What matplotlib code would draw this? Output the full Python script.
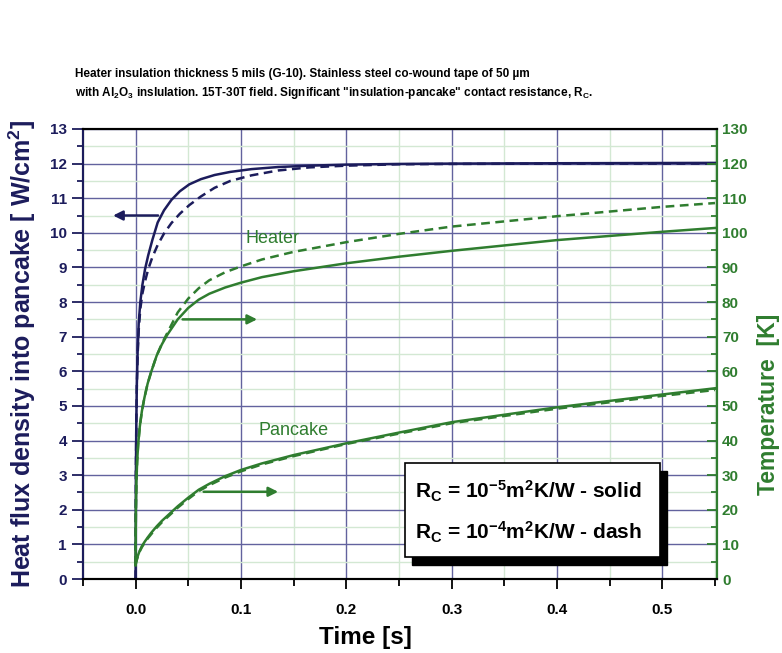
#!/usr/bin/env python
"""
Heat flux into pancake and heater / pancake temperatures vs time
"""

import matplotlib
matplotlib.use("Agg")
import matplotlib.pyplot as plt
from matplotlib.ticker import MultipleLocator
from matplotlib.patches import Rectangle

plt.rcParams['font.family'] = ['Liberation Sans', 'DejaVu Sans']
plt.rcParams['mathtext.fontset'] = 'custom'
plt.rcParams['mathtext.rm'] = 'Liberation Sans:bold'
plt.rcParams['mathtext.it'] = 'Liberation Sans:bold'
plt.rcParams['mathtext.bf'] = 'Liberation Sans:bold'

NAVY = '#1c1c5c'
GREEN = '#2f7d2f'

# Heat flux density [W/cm2], left axis
flux_t = [0, 0.0003, 0.0007, 0.0012, 0.002, 0.003, 0.0045, 0.0065, 0.009, 0.012,
          0.016, 0.021, 0.027, 0.034, 0.042, 0.051, 0.062, 0.075, 0.09, 0.11,
          0.135, 0.165, 0.2, 0.25, 0.3, 0.4, 0.55]
flux_solid = [0, 3.0, 4.5, 5.6, 6.6, 7.4, 8.0, 8.5, 8.95, 9.35,
              9.8, 10.3, 10.65, 10.95, 11.2, 11.4, 11.55, 11.67, 11.76, 11.84,
              11.9, 11.94, 11.97, 11.99, 12.0, 12.01, 12.02]
flux_dash = [0, 3.0, 4.5, 5.6, 6.5, 7.2, 7.8, 8.25, 8.6, 8.95,
             9.3, 9.65, 9.98, 10.28, 10.55, 10.8, 11.05, 11.3, 11.5, 11.66,
             11.8, 11.89, 11.94, 11.98, 11.99, 12.0, 12.0]

# Temperatures [K], right axis
temp_t = [0, 0.0003, 0.0008, 0.0015, 0.0025, 0.004, 0.006, 0.0085, 0.0115, 0.015,
          0.02, 0.025, 0.03, 0.04, 0.05, 0.06, 0.07, 0.085, 0.1, 0.12,
          0.15, 0.2, 0.25, 0.3, 0.4, 0.5, 0.55]
heater_solid = [4, 20, 28, 34, 39, 44, 48.5, 52.5, 56.5, 60,
                64.5, 67.8, 70.5, 75, 78.3, 80.7, 82.4, 84.2, 85.6, 87.2,
                88.9, 91.2, 93.1, 94.8, 97.9, 100.3, 101.4]
heater_dash = [4, 20, 28, 34, 39, 44, 48.5, 52.5, 56.5, 60,
               64.5, 68, 71, 77, 81, 84, 86.3, 88.6, 90.3, 92.3,
               94.5, 97.3, 99.7, 101.8, 104.8, 107.5, 108.6]
pancake_solid = [4, 4.5, 5.2, 6.0, 7.0, 8.2, 9.5, 10.7, 12.0, 13.4,
                 15.2, 16.8, 18.2, 21.0, 23.5, 25.8, 27.5, 29.7, 31.5, 33.4,
                 35.8, 39.2, 42.3, 45.3, 49.6, 53.3, 55.1]
pancake_dash = [4, 4.5, 5.1, 5.9, 6.8, 8.0, 9.2, 10.4, 11.7, 13.0,
                14.8, 16.4, 17.8, 20.6, 23.1, 25.4, 27.1, 29.3, 31.1, 33.1,
                35.5, 39.0, 42.0, 45.0, 49.2, 52.9, 54.6]

fig = plt.figure(figsize=(7.82, 6.53), dpi=100)
ax = fig.add_axes([0.106, 0.1133, 0.811, 0.6892])
ax2 = ax.twinx()

ax.set_xlim(-0.05, 0.552)
ax.set_ylim(0, 13)
ax2.set_ylim(0, 130)

# grid
ax.xaxis.set_major_locator(MultipleLocator(0.1))
ax.xaxis.set_minor_locator(MultipleLocator(0.05))
ax.yaxis.set_major_locator(MultipleLocator(1))
ax.yaxis.set_minor_locator(MultipleLocator(0.5))
ax2.yaxis.set_major_locator(MultipleLocator(10))
ax2.yaxis.set_minor_locator(MultipleLocator(5))
ax.grid(True, which='major', color='#62629e', lw=1.0)
ax.grid(True, which='minor', color='#d3e8d3', lw=1.0)
ax.set_axisbelow(True)

# curves
dash = (0, (3.5, 2.2))
ax.plot(flux_t, flux_solid, color=NAVY, lw=1.8)
ax.plot(flux_t, flux_dash, color=NAVY, lw=1.8, ls=dash)
ax2.plot(temp_t, heater_solid, color=GREEN, lw=1.8)
ax2.plot(temp_t, heater_dash, color=GREEN, lw=1.8, ls=dash)
ax2.plot(temp_t, pancake_solid, color=GREEN, lw=1.8)
ax2.plot(temp_t, pancake_dash, color=GREEN, lw=1.8, ls=dash)

# arrows and labels
ax.annotate('', xy=(-0.024, 10.5), xytext=(0.024, 10.5),
            arrowprops=dict(arrowstyle='-|>', color=NAVY, lw=1.8, mutation_scale=14))
ax.annotate('', xy=(0.118, 7.5), xytext=(0.042, 7.5),
            arrowprops=dict(arrowstyle='-|>', color=GREEN, lw=1.8, mutation_scale=14))
ax.annotate('', xy=(0.138, 2.52), xytext=(0.062, 2.52),
            arrowprops=dict(arrowstyle='-|>', color=GREEN, lw=1.8, mutation_scale=14))
ax.text(0.104, 9.84, 'Heater', color=GREEN, fontsize=13, va='center')
ax.text(0.117, 4.3, 'Pancake', color=GREEN, fontsize=13, va='center')

# ticks
ax.tick_params(axis='y', which='major', direction='out', length=8, width=1.3,
               colors=NAVY, labelsize=11)
ax.tick_params(axis='y', which='minor', direction='out', length=4, width=1.3, colors=NAVY)
ax.tick_params(axis='x', which='major', direction='out', length=7, width=1.3,
               labelsize=11, pad=10)
ax.tick_params(axis='x', which='minor', direction='out', length=5, width=1.3)
ax2.tick_params(axis='y', which='major', direction='in', length=7, width=1.3,
                colors=GREEN, labelsize=11)
ax2.tick_params(axis='y', which='minor', direction='in', length=4, width=1.3, colors=GREEN)
for lab in ax.get_xticklabels() + ax.get_yticklabels() + ax2.get_yticklabels():
    lab.set_fontweight('bold')
ax.xaxis.set_major_formatter(plt.FuncFormatter(lambda v, p: '%.1f' % v))

for a in (ax, ax2):
    for s in a.spines.values():
        s.set_linewidth(1.5)
ax2.spines['left'].set_color(NAVY)
ax2.spines['right'].set_color(GREEN)

ax.set_xlabel('Time [s]', fontsize=17.5, fontweight='bold')
ax.xaxis.set_label_coords(0.446, -0.105)
ax.set_ylabel('Heat flux density into pancake [ W/cm$^2$]', fontsize=18,
              fontweight='bold', color=NAVY)
ax.yaxis.set_label_coords(-0.07, 0.5)
ax2.set_ylabel('Temperature  [K]', fontsize=16.5, fontweight='bold', color=GREEN)
ax2.yaxis.set_label_coords(1.063, 0.387)

# title text
fig.text(0.096, 0.882, 'Heater insulation thickness 5 mils (G-10). Stainless steel co-wound tape of 50 \u00b5m',
         fontsize=8.5, fontweight='bold')
fig.text(0.096, 0.853, 'with Al$_2$O$_3$ inslulation. 15T-30T field. Significant "insulation-pancake" contact resistance, R$_C$.',
         fontsize=8.5, fontweight='bold')

# legend box with shadow
fig.add_artist(Rectangle((0.527, 0.135), 0.326, 0.144, transform=fig.transFigure,
                         facecolor='black', edgecolor='black', zorder=5))
fig.add_artist(Rectangle((0.518, 0.147), 0.326, 0.144, transform=fig.transFigure,
                         facecolor='white', edgecolor='black', lw=1.2, zorder=6))
fig.text(0.531, 0.248, 'R$_C$ = 10$^{-5}$m$^2$K/W - solid', fontsize=15,
         fontweight='bold', va='center', zorder=7)
fig.text(0.531, 0.185, 'R$_C$ = 10$^{-4}$m$^2$K/W - dash', fontsize=15,
         fontweight='bold', va='center', zorder=7)

fig.savefig('out.png', dpi=100)
